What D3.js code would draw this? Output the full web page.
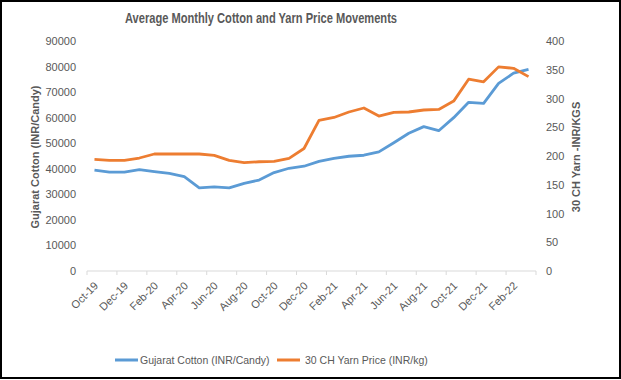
<!DOCTYPE html>
<html>
<head>
<meta charset="utf-8">
<style>
body { margin: 0; background: #fff; }
svg { display: block; font-family: "Liberation Sans", Arial, sans-serif; }
.axis text { fill: #595959; font-size: 11px; }
.axis .domain { stroke: #d9d9d9; }
</style>
</head>
<body>
<svg width="621" height="380"></svg>
<script src="https://cdn.jsdelivr.net/npm/d3@7"></script>
<script>
// months shown on the category axis
var months = ["Oct-19","Nov-19","Dec-19","Jan-20","Feb-20","Mar-20","Apr-20","May-20","Jun-20","Jul-20",
  "Aug-20","Sep-20","Oct-20","Nov-20","Dec-20","Jan-21","Feb-21","Mar-21","Apr-21","May-21",
  "Jun-21","Jul-21","Aug-21","Sep-21","Oct-21","Nov-21","Dec-21","Jan-22","Feb-22","Mar-22"];

// Gujarat cotton, INR per candy (left axis)
var cotton = [39500, 38700, 38700, 39700, 38900, 38200, 36900, 32500, 32900, 32500,
  34300, 35600, 38500, 40200, 41000, 42900, 44100, 44900, 45300, 46600,
  50200, 53900, 56500, 54900, 60000, 66000, 65600, 73400, 77400, 78900];

// 30 CH yarn, INR per kg (right axis)
var yarn = [194, 192.5, 192.5, 196.5, 203.5, 203.5, 203.5, 203.5, 201, 192.5,
  188.5, 190, 190.5, 196, 213, 262, 267, 276.5, 283.5, 269.5,
  276, 276.5, 280, 281, 295.5, 333.5, 329, 355, 352.5, 338];

var leftTicks = [0, 10000, 20000, 30000, 40000, 50000, 60000, 70000, 80000, 90000];
var rightTicks = [0, 50, 100, 150, 200, 250, 300, 350, 400];

var seriesNames = ["Gujarat Cotton (INR/Candy)", "30 CH Yarn Price (INR/kg)"];
var colors = ["#5b9bd5", "#ed7d31"];

var svg = d3.select("svg");

// outer frame
svg.append("rect")
    .attr("x", 1).attr("y", 1)
    .attr("width", 619).attr("height", 377)
    .attr("fill", "#fff")
    .attr("stroke", "#000")
    .attr("stroke-width", 2);

var x = d3.scaleBand().domain(months).range([87, 536]).padding(0);
var y = d3.scaleLinear().domain([0, 90000]).range([271, 41]);
var y2 = d3.scaleLinear().domain([0, 400]).range([271, 41]);

function cx(m) { return x(m) + x.bandwidth() / 2; }

// title
svg.append("text")
    .attr("x", 125).attr("y", 23)
    .attr("textLength", 272)
    .attr("lengthAdjust", "spacingAndGlyphs")
    .attr("font-size", 14)
    .attr("font-weight", "bold")
    .attr("fill", "#595959")
    .text("Average Monthly Cotton and Yarn Price Movements");

// left axis
var gl = svg.append("g").attr("class", "axis")
    .attr("transform", "translate(87,0)")
    .call(d3.axisLeft(y).tickValues(leftTicks).tickSize(0).tickPadding(11).tickFormat(d3.format("d")));
gl.select(".domain").remove();

// right axis
var gr = svg.append("g").attr("class", "axis")
    .attr("transform", "translate(536,0)")
    .call(d3.axisRight(y2).tickValues(rightTicks).tickSize(0).tickPadding(10).tickFormat(d3.format("d")));
gr.select(".domain").remove();

// bottom axis: line, ticks between every second category, labels at category centres
var gb = svg.append("g").attr("class", "axis");
gb.append("line")
    .attr("x1", x.range()[0]).attr("x2", x.range()[1])
    .attr("y1", y(0)).attr("y2", y(0))
    .attr("stroke", "#d9d9d9");

var tickPos = months.filter(function(d, i) { return i % 2 == 0; }).map(function(d) { return x(d); });
tickPos.push(x.range()[1]);
gb.selectAll(".tk").data(tickPos).enter().append("line")
    .attr("x1", function(d) { return d; }).attr("x2", function(d) { return d; })
    .attr("y1", y(0)).attr("y2", y(0) + 4)
    .attr("stroke", "#d9d9d9");

gb.selectAll(".lbl").data(months.filter(function(d, i) { return i % 2 == 0; })).enter().append("text")
    .attr("transform", function(d) { return "translate(" + (cx(d) - 1) + "," + (y(0) + 10) + ") rotate(-45)"; })
    .attr("text-anchor", "end")
    .attr("dy", "0.7em")
    .text(function(d) { return d; });

// axis titles
svg.append("text")
    .attr("transform", "translate(39,157) rotate(-90)")
    .attr("text-anchor", "middle")
    .attr("font-size", 11)
    .attr("font-weight", "bold")
    .attr("fill", "#595959")
    .text("Gujarat  Cotton (INR/Candy)");

svg.append("text")
    .attr("transform", "translate(580,157) rotate(-90)")
    .attr("text-anchor", "middle")
    .attr("font-size", 11)
    .attr("font-weight", "bold")
    .attr("fill", "#595959")
    .text("30 CH Yarn -INR/KGS");

// lines
var lineL = d3.line().x(function(d, i) { return cx(months[i]); }).y(function(d) { return y(d); });
var lineR = d3.line().x(function(d, i) { return cx(months[i]); }).y(function(d) { return y2(d); });

svg.append("path").datum(cotton)
    .attr("d", lineL)
    .attr("fill", "none")
    .attr("stroke", colors[0])
    .attr("stroke-width", 2.8)
    .attr("stroke-linejoin", "round");

svg.append("path").datum(yarn)
    .attr("d", lineR)
    .attr("fill", "none")
    .attr("stroke", colors[1])
    .attr("stroke-width", 2.8)
    .attr("stroke-linejoin", "round");

// legend
var legendX = [115, 277];
var legend = svg.selectAll(".leg").data(seriesNames).enter().append("g")
    .attr("transform", function(d, i) { return "translate(" + legendX[i] + ",360)"; });
legend.append("line")
    .attr("x1", 0).attr("x2", 23)
    .attr("stroke", function(d, i) { return colors[i]; })
    .attr("stroke-width", 3);
legend.append("text")
    .attr("x", function(d, i) { return i == 0 ? 25 : 28; })
    .attr("dy", "0.35em")
    .attr("font-size", 10.5)
    .attr("fill", "#595959")
    .text(function(d) { return d; });
</script>
</body>
</html>
